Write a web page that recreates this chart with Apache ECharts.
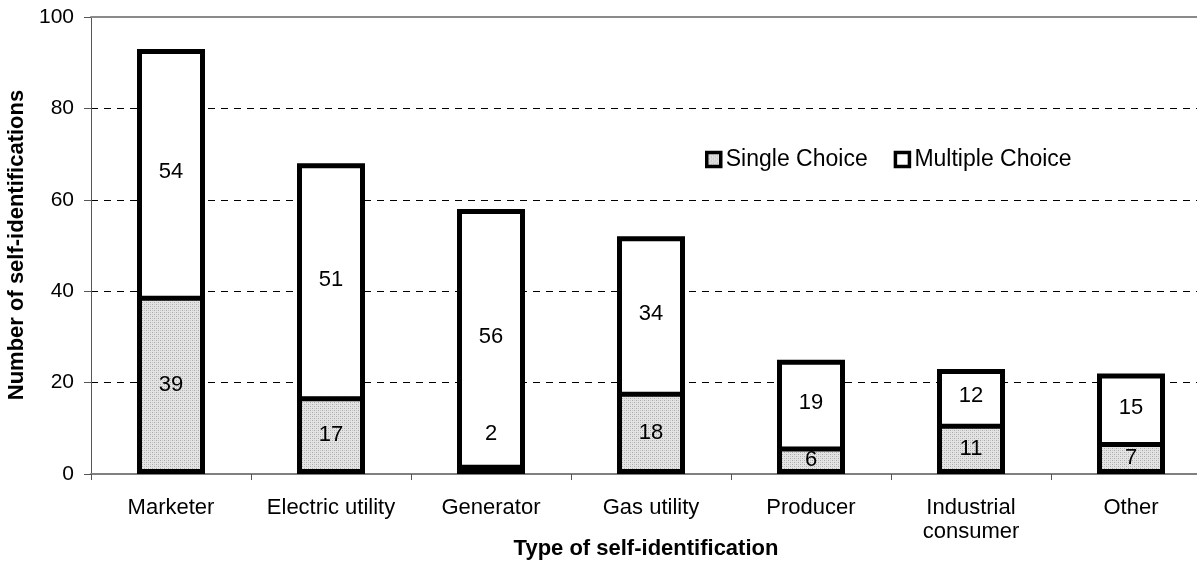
<!DOCTYPE html>
<html>
<head>
<meta charset="utf-8">
<script src="https://cdn.jsdelivr.net/npm/echarts@6/dist/echarts.min.js"></script>
<style>
  html, body { margin: 0; padding: 0; background: #fff; overflow: hidden; }
  #wrap { width: 1197px; height: 564px; overflow: hidden; }
  #chart { width: 1215px; height: 564px; }
</style>
</head>
<body>
<div id="wrap"><div id="chart"></div></div>
<script>
// categories and values
const categories = ['Marketer', 'Electric utility', 'Generator', 'Gas utility', 'Producer', 'Industrial\nconsumer', 'Other']
const singleChoice = [39, 17, 2, 18, 6, 11, 7]
const multipleChoice = [54, 51, 56, 34, 19, 12, 15]
const yTicks = [0, 20, 40, 60, 80, 100]

// total height of each column, used only for the outer outline
const totals = singleChoice.map((v, i) => v + multipleChoice[i])

// dotted gray fill like the original
const makePattern = () => {
  const c = document.createElement('canvas')
  c.width = 4
  c.height = 4
  const ctx = c.getContext('2d')
  ctx.fillStyle = '#e4e4e4'
  ctx.fillRect(0, 0, 4, 4)
  ctx.fillStyle = '#a8a8a8'
  ctx.fillRect(0, 0, 1, 1)
  ctx.fillRect(2, 2, 1, 1)
  ctx.fillStyle = '#c8c8c8'
  ctx.fillRect(2, 0, 1, 1)
  ctx.fillRect(0, 2, 1, 1)
  return c
}
const pattern = { image: makePattern(), repeat: 'repeat' }

const font = 'Liberation Sans, Arial, sans-serif'
const chart = echarts.init(document.getElementById('chart'), null, { renderer: 'canvas' })

const labelStyle = {
  show: true,
  position: 'inside',
  color: '#000',
  fontSize: 22,
  fontFamily: font
}

// transparent bar that only draws a thick black frame
const outline = (name, data) => ({
  name,
  type: 'bar',
  barWidth: 68,
  barGap: '-100%',
  silent: true,
  z: 3,
  itemStyle: { color: 'transparent', borderColor: '#000', borderWidth: 5 },
  label: { show: false },
  data
})

const option = {
  animation: false,
  textStyle: { fontFamily: font },
  grid: { left: 91, top: 17, right: 4, bottom: 90, containLabel: false },
  legend: {
    left: 705,
    top: 148,
    padding: 0,
    itemWidth: 14,
    itemHeight: 14,
    itemGap: 26,
    icon: 'rect',
    itemStyle: { borderWidth: 3.5, borderColor: '#000' },
    textStyle: { fontSize: 23, color: '#000', fontFamily: font },
    data: ['Single Choice', 'Multiple Choice']
  },
  xAxis: [
    {
      type: 'category',
      data: categories,
      axisLine: { lineStyle: { color: '#808080', width: 2 } },
      axisTick: { show: true, interval: 0, length: 6, lineStyle: { color: '#555' } },
      axisLabel: { interval: 0, color: '#000', fontSize: 22, margin: 22, lineHeight: 24, fontFamily: font }
    },
    {
      type: 'category',
      position: 'top',
      data: categories,
      axisLine: { lineStyle: { color: '#8a8a8a', width: 2 } },
      axisTick: { show: false },
      axisLabel: { show: false }
    }
  ],
  yAxis: {
    type: 'value',
    min: yTicks[0],
    max: yTicks[yTicks.length - 1],
    interval: 20,
    axisLine: { show: true, lineStyle: { color: '#555', width: 1 } },
    axisTick: { show: true, length: 7, lineStyle: { color: '#555' } },
    axisLabel: { color: '#000', fontSize: 21, margin: 17, fontFamily: font },
    splitLine: { lineStyle: { color: '#000', type: [7, 6], width: 1 } }
  },
  graphic: [
    {
      type: 'text',
      x: 646,
      y: 549,
      style: {
        text: 'Type of self-identification',
        font: 'bold 22px ' + font,
        fill: '#000',
        align: 'center',
        verticalAlign: 'middle'
      }
    },
    {
      type: 'text',
      x: 17,
      y: 245,
      rotation: Math.PI / 2,
      style: {
        text: 'Number of self-identifications',
        font: 'bold 22px ' + font,
        fill: '#000',
        align: 'center',
        verticalAlign: 'middle'
      }
    }
  ],
  series: [
    {
      name: 'Single Choice',
      type: 'bar',
      stack: 'total',
      barWidth: 68,
      itemStyle: { color: pattern, borderWidth: 0 },
      label: labelStyle,
      data: singleChoice.map(v => v < 4
        ? { value: v, label: { position: 'top', distance: 20 } }
        : v)
    },
    {
      name: 'Multiple Choice',
      type: 'bar',
      stack: 'total',
      barWidth: 68,
      itemStyle: { color: '#fff', borderWidth: 0 },
      label: labelStyle,
      data: multipleChoice
    },
    outline('outlineTotal', totals),
    outline('outlineSingle', singleChoice)
  ]
}

chart.setOption(option)
</script>
</body>
</html>
